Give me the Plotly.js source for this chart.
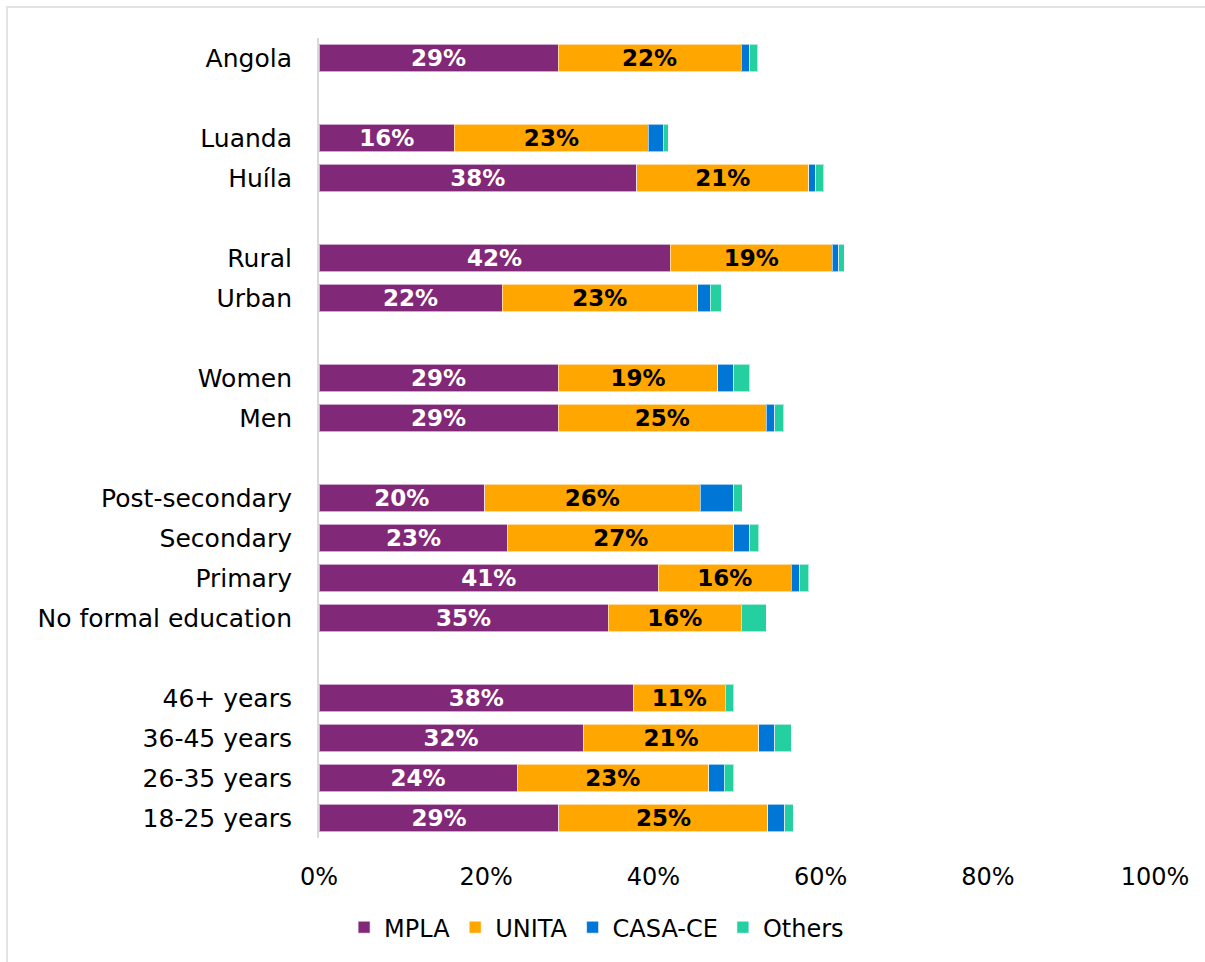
<!DOCTYPE html>
<html>
<head>
<meta charset="utf-8">
<script src="https://cdn.plot.ly/plotly-3.0.1.min.js"></script>
<style>
  html, body { margin: 0; padding: 0; background: #fff; }
  #frame { position: absolute; left: 6px; top: 6px; width: 1199px; height: 956px;
           border-left: 2px solid #e3e3e3; border-top: 2px solid #e3e3e3; box-sizing: border-box; }
  #chart { position: absolute; left: 0; top: 0; width: 1205px; height: 962px; }
</style>
</head>
<body>
<div id="frame"></div>
<div id="chart"></div>
<script>
// Categories top-to-bottom; blank entries are spacer rows between groups
const categories = [
  "Angola", " ",
  "Luanda", "Huíla", "  ",
  "Rural", "Urban", "   ",
  "Women", "Men", "    ",
  "Post-secondary", "Secondary", "Primary", "No formal education", "     ",
  "46+ years", "36-45 years", "26-35 years", "18-25 years"
];
const mpla   = [28.6, null, 16.2, 38.0, null, 42.0, 21.9, null, 28.6, 28.6, null, 19.8, 22.6, 40.6, 34.6, null, 37.6, 31.6, 23.7, 28.7];
const unita  = [21.9, null, 23.2, 20.6, null, 19.4, 23.4, null, 19.1, 24.9, null, 25.8, 27.0, 15.9, 15.9, null, 11.0, 21.0, 22.9, 25.0];
const casace = [1.0,  null, 1.8,  0.8,  null, 0.8,  1.5,  null, 1.9,  1.0,  null, 4.0,  1.9,  1.0,  0.0,  null, 0.0,  1.9,  1.9,  2.0];
const others = [1.0,  null, 0.6,  1.0,  null, 0.6,  1.3,  null, 1.9,  1.1,  null, 1.0,  1.1,  1.1,  3.0,  null, 1.0,  2.0,  1.1,  1.0];
const seriesNames = ["MPLA", "UNITA", "CASA-CE", "Others"];
const xTickVals = [0, 20, 40, 60, 80, 100];

const FONT = "DejaVu Sans";
const colors = ["#822878", "#FFA600", "#0077D6", "#24D0A0"];
const values = [mpla, unita, casace, others];
const labelled = [true, true, false, false];
const textColors = ["#ffffff", "#000000", "#000000", "#000000"];

const traces = values.map((vals, i) => ({
  type: "bar",
  orientation: "h",
  name: seriesNames[i],
  y: categories,
  x: vals,
  width: 0.68,
  marker: { color: colors[i], line: { color: "rgba(255,255,255,0.6)", width: 1 } },
  text: labelled[i] ? vals.map(v => v == null ? "" : "<b>" + Math.round(v) + "%</b>") : undefined,
  textposition: labelled[i] ? "inside" : "none",
  insidetextanchor: "middle",
  constraintext: "none",
  textangle: 0,
  textfont: { family: FONT, size: 23, color: textColors[i] },
  hoverinfo: "x+name"
}));

const layout = {
  width: 1205, height: 962,
  margin: { l: 319, r: 50, t: 38, b: 122 },
  barmode: "stack",
  paper_bgcolor: "rgba(0,0,0,0)",
  plot_bgcolor: "rgba(0,0,0,0)",
  font: { family: FONT, size: 24, color: "#000" },
  showlegend: true,
  legend: {
    orientation: "h",
    x: 0.03, xanchor: "left",
    y: -0.112, yanchor: "middle",
    font: { family: FONT, size: 24, color: "#000" },
    itemwidth: 30,
    traceorder: "normal"
  },
  xaxis: {
    range: [0, 100],
    tickvals: xTickVals,
    ticktext: xTickVals.map(v => v + "%"),
    showgrid: false,
    zeroline: false,
    showline: false,
    ticks: "outside",
    ticklen: 17,
    tickcolor: "rgba(0,0,0,0)",
    tickfont: { family: FONT, size: 24, color: "#000" },
    fixedrange: true
  },
  yaxis: {
    type: "category",
    categoryorder: "array",
    categoryarray: categories,
    autorange: "reversed",
    showgrid: false,
    zeroline: false,
    showline: true,
    linecolor: "#d9d9d9",
    linewidth: 2,
    ticks: "",
    ticklabelstandoff: 20,
    tickfont: { family: FONT, size: 25, color: "#000" },
    fixedrange: true
  }
};

Plotly.newPlot("chart", traces, layout, { displayModeBar: false, staticPlot: true });
</script>
</body>
</html>
